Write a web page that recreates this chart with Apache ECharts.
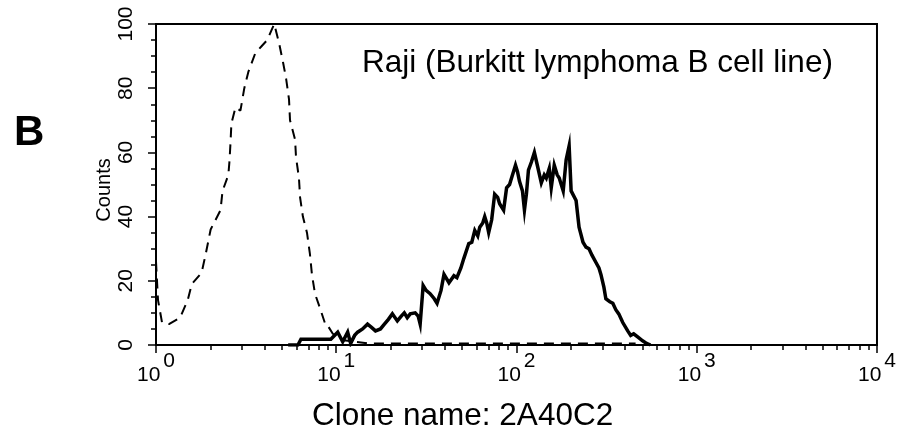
<!DOCTYPE html>
<html>
<head>
<meta charset="utf-8">
<script src="https://cdn.jsdelivr.net/npm/echarts@6/dist/echarts.min.js"></script>
<style>
  html, body { margin: 0; padding: 0; background: #fff; }
  #chart { width: 899px; height: 435px; }
</style>
</head>
<body>
<div id="chart"></div>
<script>
// isotype control (dashed)
const isoX = [1.00, 1.026, 1.08, 1.18, 1.36, 1.50, 1.58, 1.79, 1.89, 2.01, 2.28, 2.34, 2.52, 2.56, 2.59, 2.62, 2.76, 2.94, 3.09, 3.25, 3.56, 3.84, 4.14, 4.53, 4.82, 5.07, 5.27, 5.47, 5.54, 5.91, 5.98, 6.21, 6.30, 6.53, 6.88, 7.14, 7.33, 7.62, 8.11, 8.75, 8.98, 9.57, 10.9, 14.9, 458]
const isoY = [26, 14, 7, 6.5, 8.5, 14, 19, 22.5, 28.5, 36, 42, 48, 53, 57.7, 63, 69, 74, 73, 80, 85, 91, 93, 95, 100, 94, 88, 83, 76.5, 70, 64, 58.6, 52, 46, 40, 35, 28.5, 22, 16, 11.6, 6, 6, 3.5, 1.5, 0.5, 0.5]

// 2A40C2 stained (solid)
const sampleX = [5.41, 6.13, 6.37, 9.33, 10.19, 10.86, 11.57, 12.02, 12.65, 13.14,
  14.00, 14.91, 15.69, 16.51, 17.59, 18.50, 19.47, 20.48, 21.82, 22.95,
  23.85, 24.77, 25.73, 27.42, 28.48, 29.21, 30.35, 31.52, 33.17, 34.89,
  36.25, 38.13, 39.61, 42.21, 44.98, 46.70, 49.14, 51.05, 54.38, 56.49,
  58.70, 60.97, 62.54, 64.97, 66.64, 68.35, 70.11, 72.84, 75.67, 78.60,
  80.62, 84.82, 88.12, 91.52, 93.88, 98.74, 101.3, 103.9, 107.9, 110.7,
  113.5, 116.5, 121.0, 125.7, 130.5, 137.3, 142.6, 146.3, 152.0, 155.9,
  162.0, 168.2, 172.6, 181.6, 188.6, 195.9, 201.0, 214.1, 222.4, 233.9,
  243.0, 252.5, 262.3, 276.0, 286.7, 294.0, 305.4, 313.2, 329.6, 342.3,
  355.6, 369.4, 388.7, 414.1, 430.1, 446.8, 470.1, 500.8, 527, 554]
const sampleY = [0, 0, 1.8, 1.8, 4, 1, 4, 0.5, 3, 4,
  5, 6.5, 5.5, 4.4, 5, 6.5, 8, 9.7, 7.5, 9,
  10, 8.5, 9.7, 10, 9, 6.5, 18.5, 17, 16, 14.5,
  13, 17, 22, 19.4, 21.6, 21, 24, 27, 31.6, 32,
  35.7, 34, 36.7, 38, 40, 38, 35, 39, 47, 46,
  44, 42, 49, 50, 52, 56, 54, 51, 48, 42,
  47, 54.5, 57, 60, 56, 50.5, 53, 52, 55, 49,
  56, 53, 52, 48, 57.7, 62, 48, 45, 36.7, 32,
  30.5, 30, 28, 25.7, 24, 22, 18, 14.4, 13.5, 13,
  11, 9.7, 7, 4.4, 3, 3.5, 2.5, 1.3, 0.5, 0]

const decades = [1, 10, 100, 1000]
const minorTicks = []
decades.forEach(d => { for (let k = 2; k <= 9; k++) minorTicks.push(d * k) })

const tickFont = '"Liberation Sans Narrow", "Liberation Sans", sans-serif'
const textFont = '"Liberation Sans", Arial, sans-serif'

const chart = echarts.init(document.getElementById('chart'))

const option = {
  animation: false,
  grid: { left: 156, right: 16, top: 24, bottom: 90, show: true, borderColor: '#000', borderWidth: 2 },
  xAxis: [{
    type: 'log', logBase: 10, min: 1, max: 10000,
    axisLine: { lineStyle: { color: '#000', width: 2 } },
    axisTick: { length: 8, lineStyle: { color: '#000', width: 1.5 } },
    splitLine: { show: false },
    axisLabel: {
      margin: 6,
      color: '#000',
      formatter: v => '{b|10}{s|' + Math.round(Math.log10(v)) + '}',
      rich: {
        b: { fontFamily: tickFont, fontSize: 21, color: '#000', height: 20, padding: [14, 0, 0, 0] },
        s: { fontFamily: tickFont, fontSize: 21, color: '#000', height: 20, padding: [0, 0, 14, 3] }
      }
    }
  }, {
    type: 'log', logBase: 10, min: 1, max: 10000, position: 'bottom',
    axisLine: { show: false },
    axisLabel: { show: false },
    splitLine: { show: false },
    axisTick: { customValues: minorTicks, length: 5, lineStyle: { color: '#000', width: 1.5 } }
  }],
  yAxis: {
    type: 'value', min: 0, max: 100, interval: 20,
    axisLine: { show: true, lineStyle: { color: '#000', width: 2 } },
    axisTick: { show: true, length: 8, lineStyle: { color: '#000', width: 1.5 } },
    minorTick: { show: true, splitNumber: 4, length: 5, lineStyle: { color: '#000', width: 1.5 } },
    splitLine: { show: false },
    axisLabel: { rotate: 90, margin: 19, color: '#000', fontFamily: tickFont, fontSize: 21 }
  },
  graphic: [
    { type: 'text', left: 14, top: 112, style: { text: 'B', font: 'bold 42px ' + textFont, fill: '#000' } },
    { type: 'text', x: 104, y: 190, rotation: Math.PI / 2,
      style: { text: 'Counts', font: '20px ' + textFont, fill: '#000', align: 'center', verticalAlign: 'middle' } },
    { type: 'text', x: 362, y: 63,
      style: { text: 'Raji (Burkitt lymphoma B cell line)', font: '31.5px ' + textFont, fill: '#000', align: 'left', verticalAlign: 'middle' } },
    { type: 'text', x: 312, y: 416,
      style: { text: 'Clone name: 2A40C2', font: '31.5px ' + textFont, fill: '#000', align: 'left', verticalAlign: 'middle' } }
  ],
  series: [{
    name: 'isotype', type: 'line', xAxisIndex: 0,
    data: isoX.map((x, i) => [x, isoY[i]]),
    showSymbol: false,
    lineStyle: { color: '#000', width: 2, type: [10, 7] }
  }, {
    name: '2A40C2', type: 'line', xAxisIndex: 0,
    data: sampleX.map((x, i) => [x, sampleY[i]]),
    showSymbol: false,
    lineStyle: { color: '#000', width: 3.5, join: 'miter' }
  }]
}

chart.setOption(option)
</script>
</body>
</html>
